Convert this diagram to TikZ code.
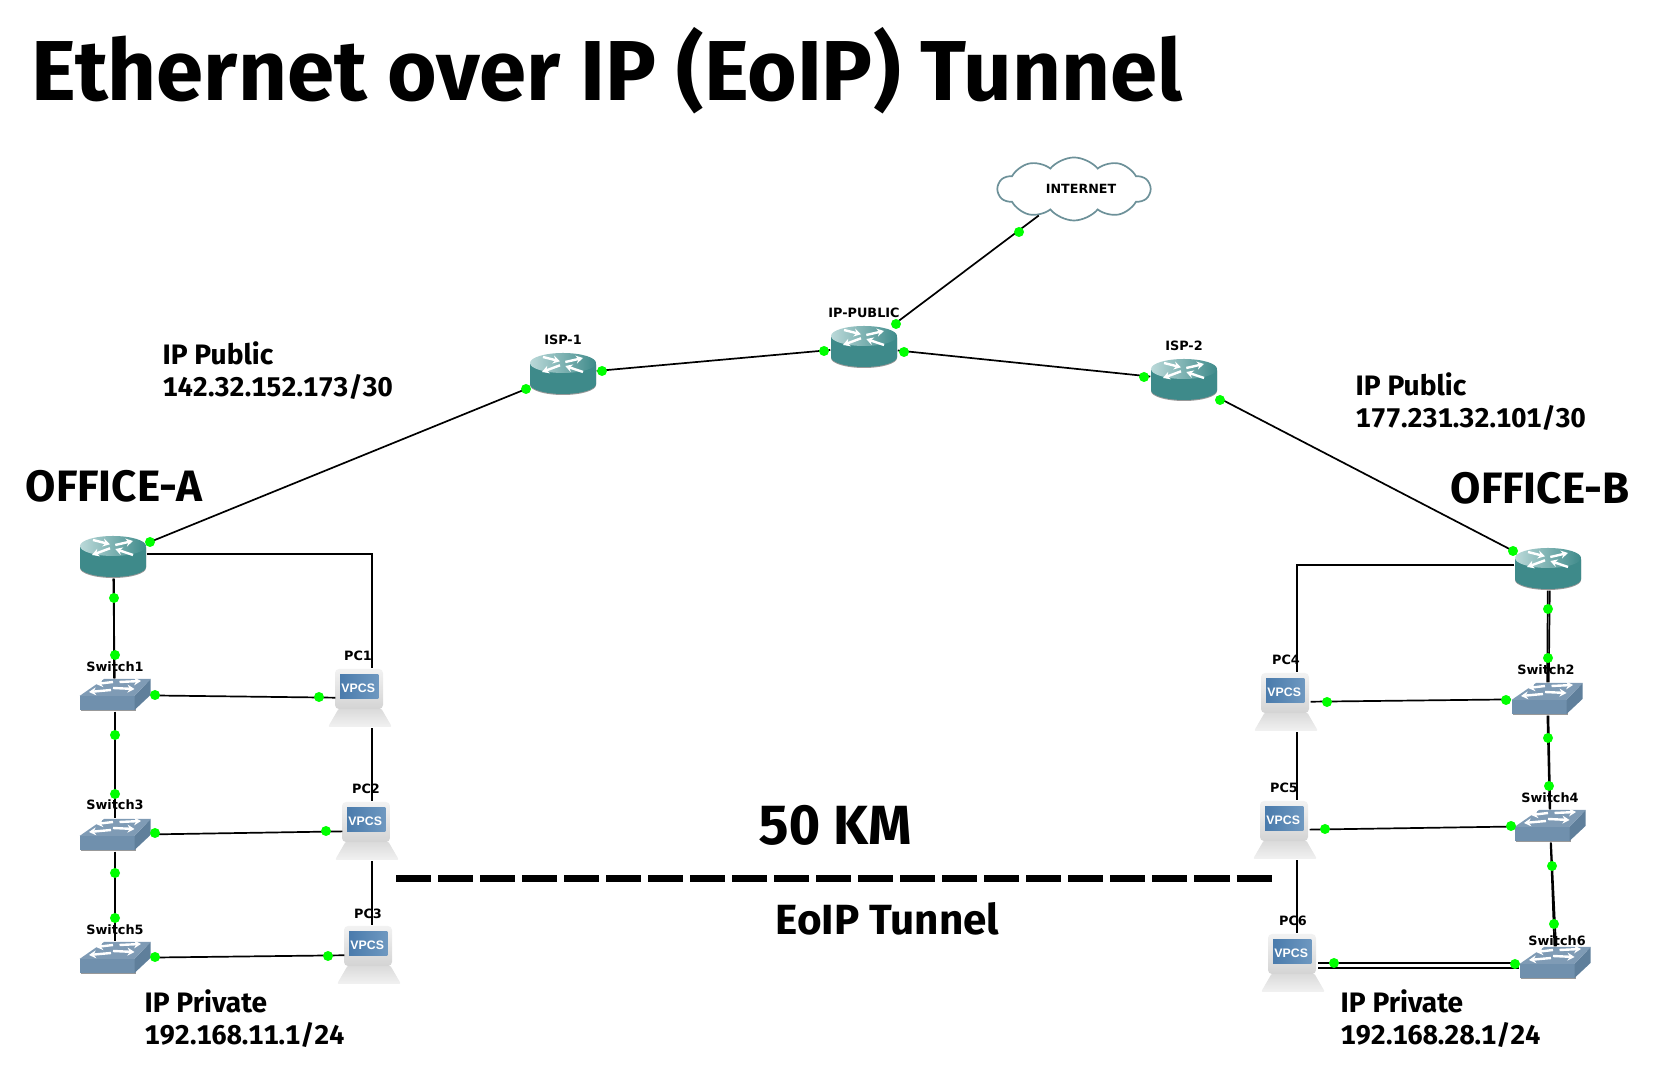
\documentclass[tikz,border=0pt]{standalone}
\usepackage{fontspec}
\setmainfont[Numbers=Monospaced]{Fira Sans}
\newfontfamily\labelfont{DejaVu Sans}
\newfontfamily\screenfont{Liberation Sans}
\usetikzlibrary{arrows.meta,shapes.symbols}

\definecolor{teal1}{HTML}{3E8A8A}
\definecolor{teal2}{HTML}{BBD9D9}
\definecolor{sw1}{HTML}{7F9BB5}
\definecolor{sw2}{HTML}{7090AD}
\definecolor{sw3}{HTML}{5F7F9B}
\definecolor{cloudline}{HTML}{6D9199}
\definecolor{screen1}{HTML}{4A7BAC}
\definecolor{screen2}{HTML}{6E98C0}

\newcommand{\routericon}{%
  \fill[black!40] (-33,-9) -- (-33,11) arc[start angle=180,end angle=0,x radius=33,y radius=10] -- (33,-9) -- cycle;
  \fill[teal1] (-33,-10) -- (-33,10) arc[start angle=180,end angle=0,x radius=33,y radius=10] -- (33,-10) -- cycle;
  \shade[left color=teal2,middle color=teal1,right color=teal1] (0,-11) ellipse[x radius=33,y radius=10];
  \draw[iconarrow] (-20,-17) -- (-3,-12.7);
  \draw[iconarrow] (2.3,-12) -- (20,-16);
  \draw[iconarrow] (-3,-8.7) -- (-21,-2);
  \draw[iconarrow] (20,-2) -- (2.3,-8);
}
\newcommand{\switchicon}{%
  \fill[black!40] (-34.5,2) rectangle (20.5,16);
  \fill[sw2] (-35.5,1) rectangle (19.5,15);
  \fill[sw3] (19.5,1) -- (35.5,-16) -- (35.5,0) -- (19.5,15) -- cycle;
  \fill[sw1] (-35.5,1) -- (-11,-16) -- (35.5,-16) -- (19.5,1) -- cycle;
  \draw[iconarrow] (-2,-13) -- (-19,-11);
  \draw[iconarrow] (4.5,-13) -- (26,-14);
  \draw[iconarrow] (-4,-5) -- (-26,-3);
  \draw[iconarrow] (-2,-7) -- (19.5,-6);
}
\newcommand{\pcicon}{%
  \shade[top color=black!35,bottom color=black!5,rounded corners=.02cm] (-21,10) -- (21,10) -- (32,29) -- (-32,29) -- cycle;
  \shade[top color=black!5,bottom color=black!17,rounded corners=.04cm] (-25,-29) rectangle (23,11);
  \shade[left color=screen1,right color=screen2] (-20,-23.5) rectangle (18.3,.8);
}
\newcommand{\ipnum}[1]{{\fontsize{7.68}{9}\selectfont #1}}

\tikzset{
  router/.style={minimum width=.66cm,minimum height=.42cm,inner sep=0pt,path picture={\routericon}},
  switch/.style={minimum width=.71cm,minimum height=.32cm,inner sep=0pt,path picture={\switchicon}},
  pc/.style={minimum width=.64cm,minimum height=.59cm,inner sep=0pt,text=white,
    font={\screenfont\fontsize{3.5}{4}\selectfont\bfseries},path picture={\pcicon}},
  iconarrow/.style={white,line width=.024cm,-{Stealth[length=.07cm,width=.08cm]}},
  link/.style={black,line width=.017cm},
  pclink/.style={link,shorten >=-.08cm},
  linkdot/.style={circle,fill=green,inner sep=0pt,minimum size=.1cm},
  nodetext/.style={inner sep=0pt,font={\labelfont\fontsize{3.65}{4}\selectfont\bfseries}},
  note/.style={inner sep=0pt,anchor=south west,align=left,font={\fontsize{8}{9}\selectfont\bfseries}},
  office/.style={inner sep=0pt,anchor=base west,font={\fontsize{12.5}{14}\selectfont\bfseries}}
}

\begin{document}
\begin{tikzpicture}[x=.01cm,y=-.01cm]
  \useasboundingbox (0,0) rectangle (1654,1074);

  \node[inner sep=0pt,anchor=base west,font={\fontsize{24.2}{28}\selectfont\bfseries}] (title) at (31,101) {Ethernet over IP (EoIP) Tunnel};

  % routers
  \foreach \name/\x/\y in {officeA/113/557,isp1/563/374,ippublic/864/347,isp2/1184/380,officeB/1548/569}
    \node[router] (\name) at (\x,\y) {};

  % switches
  \foreach \name/\x/\y in {sw1/115/695,sw3/115/835,sw5/115/958,sw2/1547/699,sw4/1550/826,sw6/1555/963}
    \node[switch] (\name) at (\x,\y) {};

  % the VPCS hosts
  \foreach \name/\x/\y in {pc1/360/698,pc2/367/831,pc3/369/955,pc4/1286/702,pc5/1285/830,pc6/1293/963}
    \node[pc] (\name) at (\x,\y) {\raisebox{1.5pt}[0pt][0pt]{\makebox[0pt]{\kern-1pt VPCS}}};

  \node[cloud,cloud puffs=10,cloud puff arc=100,aspect=2.5,draw=cloudline,line width=.017cm,fill=white,inner sep=0pt,
    minimum width=1.52cm,minimum height=.63cm,font={\labelfont\fontsize{3.6}{4}\selectfont\bfseries}] (internet) at (1074,189) {\kern4pt INTERNET};

  % names on top of the icons
  \foreach \name/\x/\y/\txt in {t1/563/340/ISP-1,t2/864/313/IP-PUBLIC,t3/1184/346/ISP-2,
      t4/115/667/Switch1,t5/115/805/Switch3,t6/115/930/Switch5,t7/1546/670/Switch2,t8/1550/798/Switch4,t9/1557/941/Switch6,
      t10/358/656/PC1,t11/366/789/PC2,t12/368/914/PC3,t13/1286/660/PC4,t14/1284/788/PC5,t15/1293/921/PC6}
    \node[nodetext] (\name) at (\x,\y) {\txt};

  % wan side
  \draw[link] (officeA) -- (isp1);
  \draw[link] (isp1) -- (ippublic);
  \draw[link] (ippublic) -- (isp2);
  \draw[link] (isp2) -- (officeB);
  \draw[link] (ippublic) -- (internet);

  % office a
  \draw[link] (officeA) -- (sw1);
  \draw[link] ([xshift=.3pt]officeA.south) -- ([xshift=-.3pt]sw1.north);
  \draw[link] (sw1) -- (sw3);
  \draw[link] (sw3) -- (sw5);
  \draw[pclink] (sw1) -- (pc1);
  \draw[pclink] (sw3) -- (pc2);
  \draw[pclink] (sw5) -- (pc3);
  \coordinate (trunkA) at (372,554);
  \draw[link] (officeA.east |- trunkA) -- (trunkA) -- (trunkA |- pc1.north);
  \draw[link] (trunkA |- pc1.south) -- (trunkA |- pc2.north);
  \draw[link] (trunkA |- pc2.south) -- (trunkA |- pc3.north);

  % office b
  \draw[link] (officeB) -- (sw2);
  \draw[link] ([xshift=.5pt]officeB.south) -- ([xshift=.5pt]sw2.north);
  \draw[link] (sw2) -- (sw4);
  \draw[link] ([xshift=.4pt]sw2.south) -- ([xshift=.1pt]sw4.north);
  \draw[link] (sw4) -- (sw6);
  \draw[link] ([xshift=.3pt]sw4.south) -- ([xshift=.3pt]sw6.north);
  \draw[pclink] (sw2) -- (pc4);
  \draw[pclink] (sw4) -- (pc5);
  \draw[pclink] (sw6) -- (pc6);
  \draw[pclink] ([yshift=-1.4pt]sw6.west) -- ([yshift=-1.4pt]pc6.east);
  \coordinate (trunkB) at (1297,565);
  \draw[link] (officeB.west |- trunkB) -- (trunkB) -- (trunkB |- pc4.north);
  \draw[link] (trunkB |- pc4.south) -- (trunkB |- pc5.north);
  \draw[link] (trunkB |- pc5.south) -- (trunkB |- pc6.north);

  % green port dots
  \foreach \name/\x/\y in {d1/150/542,d2/526/389,d3/602/371,d4/824/351,d5/904/352,d6/1144/377,d7/896/324,d8/1019/232,
      d9/1220/400,d10/1513/551,d11/114/598,d12/115/655,d13/155/695,d14/319/697,d15/115/735,d16/115/794,
      d17/155/833,d18/326/831,d19/115/873,d20/115/918,d21/155/957,d22/328/956,d23/1548/609,d24/1548/658,
      d25/1506/700,d26/1327/702,d27/1548/738,d28/1549/786,d29/1511/826,d30/1325/829,d31/1552/866,d32/1554/924,
      d33/1515/964,d34/1334/963}
    \node[linkdot] (\name) at (\x,\y) {};

  % the tunnel
  \coordinate (tunnelA) at (396,879);
  \coordinate (tunnelB) at (1272,879);
  \draw[black,line width=.07cm,dash pattern=on .35cm off .07cm] (tunnelA) -- (tunnelB);

  \node[office] (officeAtext) at (25,502) {OFFICE-A};
  \node[office] (officeBtext) at (1450,504) {OFFICE-B};
  \node[inner sep=0pt,anchor=base west,font={\fontsize{15.7}{18}\selectfont\bfseries}] (distance) at (758,845) {50 KM};
  \node[inner sep=0pt,anchor=base west,font={\fontsize{12}{14}\selectfont\bfseries}] (tunneltext) at (775,935) {EoIP Tunnel};

  \node[note] (publicA) at (162,400) {IP Public\\\ipnum{142.32.152.173/30}};
  \node[note] (publicB) at (1355,431) {IP Public\\\ipnum{177.231.32.101/30}};
  \node[note] (privateA) at (144,1048) {IP Private\\\ipnum{192.168.11.1/24}};
  \node[note] (privateB) at (1340,1048) {IP Private\\\ipnum{192.168.28.1/24}};
\end{tikzpicture}
\end{document}
